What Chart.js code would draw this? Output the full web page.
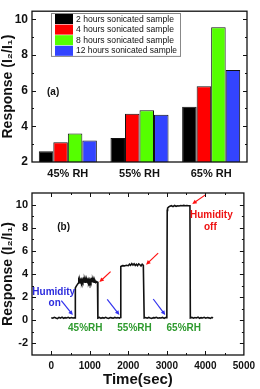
<!DOCTYPE html>
<html>
<head>
<meta charset="utf-8">
<script src="https://cdn.jsdelivr.net/npm/chart.js@4.4.1/dist/chart.umd.min.js"></script>
<style>
  html, body { margin: 0; padding: 0; background: #fff; }
  #wrap { position: relative; width: 260px; height: 389px; }
  #barBox { position: absolute; left: 0; top: 0; width: 260px; height: 180px; }
  #lineBox { position: absolute; left: 0; top: 180px; width: 260px; height: 209px; }
</style>
</head>
<body>
<div id="wrap">
  <div id="barBox"><canvas id="barChart" width="260" height="180"></canvas></div>
  <div id="lineBox"><canvas id="lineChart" width="260" height="209"></canvas></div>
</div>
<script>
// (a) response vs RH for each sonication time
const rhLevels = ['45% RH', '55% RH', '65% RH'];
const sampleNames = ['2 hours sonicated sample', '4 hours sonicated sample', '8 hours sonicated sample', '12 hours sonicated sample'];
const sampleColors = ['#000000', '#ff0000', '#55ff00', '#3344ff'];
const resp2h  = [2.6, 3.35, 5.1];
const resp4h  = [3.1, 4.7, 6.25];
const resp8h  = [3.6, 4.9, 9.55];
const resp12h = [3.2, 4.65, 7.15];
const barYTicks = [2, 4, 6, 8, 10];

// (b) response vs time
const timeSec = [
  0, 40, 80, 120, 160, 200, 240, 280, 320, 360, 400, 440, 480, 520, 560, 600,
  620, 625, 650, 680, 700, 715, 730, 745, 760, 775, 790, 805, 820, 835, 850, 865, 880, 895, 910, 925, 940,
  955, 970, 985, 1000, 1015, 1030, 1045, 1060, 1075, 1090, 1105, 1120, 1135, 1150, 1165, 1180, 1200,
  1210, 1250, 1290, 1330, 1370, 1410, 1450, 1490, 1530, 1570, 1610, 1650, 1690, 1730, 1770, 1800,
  1805, 1850, 1900, 1950, 2000, 2030, 2060, 2090, 2120, 2150, 2180, 2210, 2240, 2270, 2300, 2330, 2360, 2390, 2405,
  2412, 2450, 2490, 2530, 2570, 2610, 2650, 2690, 2730, 2770, 2810, 2850, 2890, 2930, 2970, 3000,
  3010, 3020, 3050, 3080, 3120, 3160, 3200, 3240, 3280, 3320, 3360, 3400, 3440, 3480, 3520, 3560, 3600,
  3610, 3650, 3690, 3730, 3770, 3810, 3850, 3890, 3930, 3970, 4010, 4050, 4090, 4130, 4170, 4200
];
const response = [
  0.22, 0.18, 0.26, 0.2, 0.15, 0.25, 0.19, 0.27, 0.17, 0.23, 0.2, 0.26, 0.18, 0.24, 0.2, 0.21,
  0.2, 2.8, 2.95, 3.1, 3.2, 3.45, 3.3, 3.5, 3.32, 3.5, 3.3, 3.5, 3.35, 3.52, 3.32, 3.5, 3.3, 3.48, 3.32, 3.5, 3.35,
  3.52, 3.32, 3.5, 3.3, 3.48, 3.32, 3.5, 3.35, 3.5, 3.32, 3.45, 3.3, 3.42, 3.28, 3.35, 3.3, 3.3,
  0.2, 0.25, 0.17, 0.23, 0.19, 0.26, 0.2, 0.16, 0.24, 0.21, 0.18, 0.25, 0.2, 0.23, 0.18, 0.25,
  4.65, 4.72, 4.7, 4.75, 4.72, 4.85, 4.75, 4.9, 4.78, 4.88, 4.74, 4.85, 4.72, 4.88, 4.8, 4.7, 4.85, 4.75, 4.75,
  0.2, 0.24, 0.18, 0.25, 0.2, 0.16, 0.23, 0.21, 0.26, 0.18, 0.22, 0.2, 0.25, 0.17, 0.23, 0.22,
  9.5, 9.7, 9.8, 9.85, 9.9, 9.82, 9.92, 9.85, 9.9, 9.88, 9.92, 9.9, 9.93, 9.9, 9.92, 9.9, 9.9,
  0.2, 0.25, 0.18, 0.24, 0.2, 0.27, 0.17, 0.23, 0.2, 0.26, 0.18, 0.24, 0.21, 0.17, 0.25, 0.2
];
const timeTicks = [0, 1000, 2000, 3000, 4000, 5000];
const respTicks = [-2, 0, 2, 4, 6, 8, 10];

const boldFont = (size) => ({ family: 'Arial, "Liberation Sans", sans-serif', size: size, weight: 'bold' });

// box round the plot + inward tick marks (major and minor)
function frameWithTicks(majorX, minorX, majorY, minorY) {
  return {
    id: 'frame',
    afterDraw(chart) {
      const { ctx, chartArea: a, scales } = chart;
      ctx.save();
      ctx.strokeStyle = '#111';
      ctx.lineWidth = 1.3;
      ctx.strokeRect(a.left, a.top, a.right - a.left, a.bottom - a.top);
      ctx.lineWidth = 1;
      ctx.beginPath();
      const tx = (vals, len) => vals.forEach(v => {
        const x = Math.round(scales.x.getPixelForValue(v)) + 0.5;
        if (x <= a.left + 1 || x >= a.right - 1) return;
        ctx.moveTo(x, a.bottom); ctx.lineTo(x, a.bottom - len);
        ctx.moveTo(x, a.top); ctx.lineTo(x, a.top + len);
      });
      const ty = (vals, len) => vals.forEach(v => {
        const y = Math.round(scales.y.getPixelForValue(v)) + 0.5;
        if (y <= a.top + 1 || y >= a.bottom - 1) return;
        ctx.moveTo(a.left, y); ctx.lineTo(a.left + len, y);
        ctx.moveTo(a.right, y); ctx.lineTo(a.right - len, y);
      });
      tx(majorX, 4); tx(minorX, 2);
      ty(majorY, 4); ty(minorY, 2);
      ctx.stroke();
      ctx.restore();
    }
  };
}

// legend box + "(a)" label for the bar chart
const barExtras = {
  id: 'barExtras',
  afterDraw(chart) {
    const { ctx, chartArea: a, scales } = chart;
    ctx.save();
    const bx = 51, by = 13, bw = 129, rowH = 10.6;
    ctx.fillStyle = '#fff';
    ctx.fillRect(bx, by, bw, rowH * 4 + 0.5);
    ctx.strokeStyle = '#888';
    ctx.lineWidth = 1;
    ctx.strokeRect(bx + 0.5, by + 0.5, bw, rowH * 4 + 0.5);
    ctx.font = '8.6px Arial, "Liberation Sans", sans-serif';
    ctx.textBaseline = 'middle';
    sampleNames.forEach((name, i) => {
      const y = by + 1 + i * rowH;
      ctx.fillStyle = sampleColors[i];
      ctx.fillRect(bx + 4, y, 18, rowH - 0.6);
      ctx.fillStyle = '#111';
      ctx.fillText(name, bx + 25, y + rowH / 2, bw - 28);
    });
    ctx.font = 'bold 10px Arial, "Liberation Sans", sans-serif';
    ctx.fillStyle = '#111';
    ctx.textAlign = 'left';
    ctx.fillText('(a)', a.left + 15, scales.y.getPixelForValue(5.9));
    ctx.restore();
  }
};

// arrows and notes for the time trace, placed in data units
const lineNotes = [
  { text: 'Humidity', x: 64,   y: 2.45,  color: '#2b2bdd' },
  { text: 'on',       x: 90,   y: 1.5,   color: '#2b2bdd' },
  { text: 'Humidity', x: 4156, y: 9.04,  color: '#ee1111' },
  { text: 'off',      x: 4130, y: 8.08,  color: '#ee1111' },
  { text: '45%RH',    x: 882,  y: -0.7,  color: '#2e9a2e' },
  { text: '55%RH',    x: 2161, y: -0.7,  color: '#2e9a2e' },
  { text: '65%RH',    x: 3440, y: -0.7,  color: '#2e9a2e' },
  { text: '(b)',      x: 320,  y: 8.0,   color: '#111' }
];
const lineArrows = [
  { x0: 261,  y0: 1.7,  x1: 560,  y1: 0.45, color: '#3333ee' },
  { x0: 1453, y0: 1.8,  x1: 1770, y1: 0.45, color: '#3333ee' },
  { x0: 2647, y0: 1.84, x1: 2960, y1: 0.45, color: '#3333ee' },
  { x0: 1540, y0: 4.2,  x1: 1250, y1: 3.3,  color: '#ff1111' },
  { x0: 2775, y0: 5.8,  x1: 2460, y1: 4.8,  color: '#ff1111' },
  { x0: 4010, y0: 10.86, x1: 3660, y1: 10.05, color: '#ff1111' }
];
const lineExtras = {
  id: 'lineExtras',
  afterDatasetsDraw(chart) {
    const { ctx, scales } = chart;
    ctx.save();
    lineArrows.forEach(ar => {
      const x0 = scales.x.getPixelForValue(ar.x0), y0 = scales.y.getPixelForValue(ar.y0);
      const x1 = scales.x.getPixelForValue(ar.x1), y1 = scales.y.getPixelForValue(ar.y1);
      const ang = Math.atan2(y1 - y0, x1 - x0);
      ctx.strokeStyle = ar.color;
      ctx.fillStyle = ar.color;
      ctx.lineWidth = 1.2;
      ctx.beginPath();
      ctx.moveTo(x0, y0);
      ctx.lineTo(x1 - 3 * Math.cos(ang), y1 - 3 * Math.sin(ang));
      ctx.stroke();
      ctx.beginPath();
      ctx.moveTo(x1, y1);
      ctx.lineTo(x1 - 5 * Math.cos(ang - 0.45), y1 - 5 * Math.sin(ang - 0.45));
      ctx.lineTo(x1 - 5 * Math.cos(ang + 0.45), y1 - 5 * Math.sin(ang + 0.45));
      ctx.closePath();
      ctx.fill();
    });
    ctx.font = 'bold 10px Arial, "Liberation Sans", sans-serif';
    ctx.textAlign = 'center';
    ctx.textBaseline = 'middle';
    lineNotes.forEach(n => {
      ctx.fillStyle = n.color;
      ctx.fillText(n.text, scales.x.getPixelForValue(n.x), scales.y.getPixelForValue(n.y));
    });
    ctx.restore();
  }
};

const barSets = [resp2h, resp4h, resp8h, resp12h].map((vals, i) => ({
  label: sampleNames[i],
  data: vals,
  backgroundColor: sampleColors[i],
  borderColor: '#111',
  borderWidth: 1,
  borderSkipped: 'bottom',
  categoryPercentage: 0.81,
  barPercentage: 1.0
}));

new Chart(document.getElementById('barChart'), {
  type: 'bar',
  data: { labels: rhLevels, datasets: barSets },
  options: {
    responsive: false,
    animation: false,
    layout: { padding: { top: 2, right: 13, left: 0, bottom: 0 } },
    plugins: { legend: { display: false }, tooltip: { enabled: false } },
    scales: {
      x: {
        grid: { display: false, drawTicks: false },
        border: { display: false },
        ticks: { color: '#111', font: boldFont(11), padding: 5 },
        afterFit: s => { s.height = 18; }
      },
      y: {
        min: 2, max: 10.45,
        grid: { display: false, drawTicks: false },
        border: { display: false },
        afterBuildTicks: s => { s.ticks = barYTicks.map(v => ({ value: v })); },
        ticks: { color: '#111', font: boldFont(12), padding: 4 },
        title: { display: true, text: 'Response (I₂/I₁)', color: '#111', font: boldFont(14), padding: 0 },
        afterFit: s => { s.width = 32; }
      }
    }
  },
  plugins: [frameWithTicks([], [], barYTicks, [3, 5, 7, 9]), barExtras]
});

new Chart(document.getElementById('lineChart'), {
  type: 'line',
  data: {
    labels: timeSec,
    datasets: [{
      data: timeSec.map((t, i) => ({ x: t, y: response[i] })),
      borderColor: '#111',
      borderWidth: 1.6,
      pointRadius: 0,
      tension: 0
    }]
  },
  options: {
    responsive: false,
    animation: false,
    layout: { padding: { top: 13, right: 13, left: 0, bottom: 0 } },
    plugins: { legend: { display: false }, tooltip: { enabled: false } },
    scales: {
      x: {
        type: 'linear',
        min: -500, max: 5000,
        grid: { display: false, drawTicks: false },
        border: { display: false },
        afterBuildTicks: s => { s.ticks = timeTicks.map(v => ({ value: v })); },
        ticks: { color: '#111', font: boldFont(10), padding: 5, maxRotation: 0, callback: v => String(v) },
        title: { display: true, text: 'Time(sec)', color: '#111', font: boldFont(15), padding: 0 },
        afterFit: s => { s.height = 34; }
      },
      y: {
        min: -3, max: 11,
        grid: { display: false, drawTicks: false },
        border: { display: false },
        afterBuildTicks: s => { s.ticks = respTicks.map(v => ({ value: v })); },
        ticks: { color: '#111', font: boldFont(11), padding: 4 },
        title: { display: true, text: 'Response (I₂/I₁)', color: '#111', font: boldFont(14), padding: 0 },
        afterFit: s => { s.width = 32; }
      }
    }
  },
  plugins: [frameWithTicks(timeTicks, [-500, 500, 1500, 2500, 3500, 4500], respTicks, [-3, -1, 1, 3, 5, 7, 9, 11]), lineExtras]
});
</script>
</body>
</html>
